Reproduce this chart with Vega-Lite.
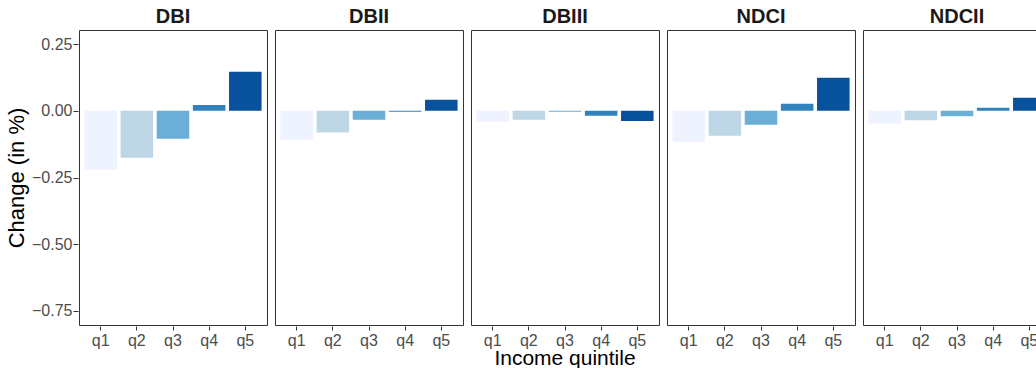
{
  "$schema": "https://vega.github.io/schema/vega-lite/v6.json",
  "padding": {"left": 5, "top": 7, "right": 0, "bottom": 0},
  "autosize": {"type": "pad"},
  "background": "white",
  "data": {"values": [
    {"scheme": "DBI", "quintile": "q1", "value": -0.221},
    {"scheme": "DBI", "quintile": "q2", "value": -0.176},
    {"scheme": "DBI", "quintile": "q3", "value": -0.105},
    {"scheme": "DBI", "quintile": "q4", "value": 0.022},
    {"scheme": "DBI", "quintile": "q5", "value": 0.146},
    {"scheme": "DBII", "quintile": "q1", "value": -0.109},
    {"scheme": "DBII", "quintile": "q2", "value": -0.081},
    {"scheme": "DBII", "quintile": "q3", "value": -0.034},
    {"scheme": "DBII", "quintile": "q4", "value": -0.004},
    {"scheme": "DBII", "quintile": "q5", "value": 0.041},
    {"scheme": "DBIII", "quintile": "q1", "value": -0.041},
    {"scheme": "DBIII", "quintile": "q2", "value": -0.034},
    {"scheme": "DBIII", "quintile": "q3", "value": -0.004},
    {"scheme": "DBIII", "quintile": "q4", "value": -0.019},
    {"scheme": "DBIII", "quintile": "q5", "value": -0.038},
    {"scheme": "NDCI", "quintile": "q1", "value": -0.116},
    {"scheme": "NDCI", "quintile": "q2", "value": -0.094},
    {"scheme": "NDCI", "quintile": "q3", "value": -0.052},
    {"scheme": "NDCI", "quintile": "q4", "value": 0.026},
    {"scheme": "NDCI", "quintile": "q5", "value": 0.124},
    {"scheme": "NDCII", "quintile": "q1", "value": -0.048},
    {"scheme": "NDCII", "quintile": "q2", "value": -0.036},
    {"scheme": "NDCII", "quintile": "q3", "value": -0.021},
    {"scheme": "NDCII", "quintile": "q4", "value": 0.011},
    {"scheme": "NDCII", "quintile": "q5", "value": 0.049}
  ]},
  "facet": {
    "column": {
      "field": "scheme", "type": "nominal",
      "sort": ["DBI", "DBII", "DBIII", "NDCI", "NDCII"],
      "header": {
        "title": "Income quintile",
        "titleOrient": "bottom",
        "labelOrient": "top",
        "labelFont": "Liberation Sans", "labelFontSize": 20, "labelFontWeight": "bold", "labelColor": "#1a1a1a",
        "labelPadding": 2,
        "titleFont": "Liberation Sans", "titleFontSize": 21, "titleFontWeight": "normal", "titleColor": "#000000",
        "titlePadding": -10
      }
    }
  },
  "spacing": 6,
  "spec": {
    "width": 188,
    "height": 295,
    "mark": {"type": "bar"},
    "encoding": {
      "x": {
        "field": "quintile", "type": "nominal",
        "scale": {"paddingInner": 0.1, "paddingOuter": 0.15},
        "axis": {"title": null, "labelAngle": 0, "labelFont": "Liberation Sans", "labelFontSize": 16, "labelColor": "#4d4d4d", "tickColor": "#333333", "tickSize": 4, "labelPadding": 2}
      },
      "y": {
        "field": "value", "type": "quantitative",
        "scale": {"domain": [-0.8025, 0.3025], "nice": false, "zero": false},
        "axis": {"title": "Change (in %)", "values": [-0.75, -0.5, -0.25, 0, 0.25], "format": ".2f",
          "labelFont": "Liberation Sans", "labelFontSize": 16, "labelColor": "#4d4d4d", "tickColor": "#333333", "tickSize": 5, "labelPadding": 1,
          "titleFont": "Liberation Sans", "titleFontSize": 22, "titleFontWeight": "normal", "titleColor": "#000000", "titlePadding": 3}
      },
      "y2": {"datum": 0},
      "color": {
        "field": "quintile", "type": "nominal",
        "scale": {"domain": ["q1", "q2", "q3", "q4", "q5"], "range": ["#eff3ff", "#bdd7e7", "#6baed6", "#3182bd", "#08519c"]},
        "legend": null
      }
    }
  },
  "config": {
    "view": {"stroke": "#333333", "strokeWidth": 1},
    "axis": {"grid": false, "domain": false}
  }
}
